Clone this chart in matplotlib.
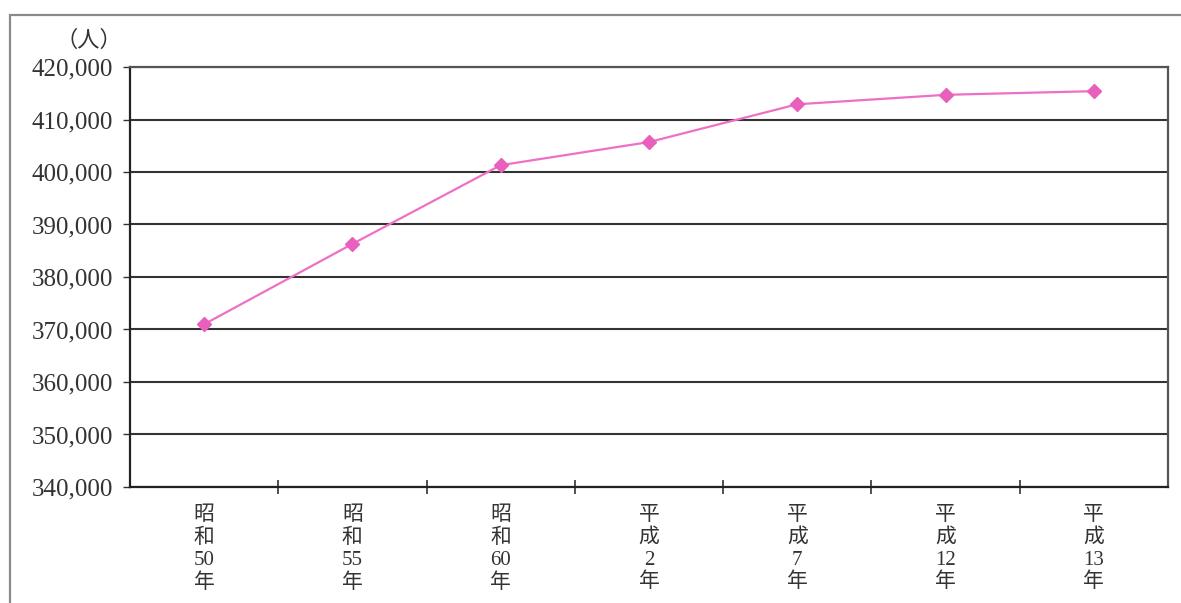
import matplotlib
matplotlib.use("Agg")
import matplotlib.pyplot as plt
from matplotlib.patches import Rectangle
from matplotlib.ticker import FuncFormatter

# Population (persons) by survey year
years = ["昭\n和\n50\n年", "昭\n和\n55\n年", "昭\n和\n60\n年", "平\n成\n2\n年",
         "平\n成\n7\n年", "平\n成\n12\n年", "平\n成\n13\n年"]
population = [371000, 386300, 401300, 405700, 412900, 414700, 415400]
y_ticks = list(range(340000, 420001, 10000))

W, H = 1181, 603
fig = plt.figure(figsize=(W / 100, H / 100), dpi=100)
fig.patch.set_facecolor("white")

# outer frame around the chart
fig.patches.append(Rectangle((10 / W, -0.05), 1.1, 1 - 15 / H + 0.05,
                             transform=fig.transFigure, fill=False,
                             edgecolor="#8a8a8a", linewidth=1.6))

left, right, top, bottom = 130 / W, 1168 / W, 1 - 67 / H, 1 - 487 / H
ax = fig.add_axes([left, bottom, right - left, top - bottom])

x = list(range(len(population)))
ax.plot(x, population, color="#ee70c6", linewidth=1.6, marker="D",
        markersize=7, markerfacecolor="#e860bc", markeredgecolor="#e860bc", zorder=3)

ax.set_xlim(-0.5, len(population) - 0.5)
ax.set_ylim(y_ticks[0], y_ticks[-1])
ax.set_yticks(y_ticks)
ax.yaxis.set_major_formatter(FuncFormatter(lambda v, p: f"{int(v):,}"))
ax.grid(axis="y", color="#333333", linewidth=1.5)
ax.set_axisbelow(True)

serif = ["Liberation Serif", "Noto Sans CJK JP"]
for lbl in ax.get_yticklabels():
    lbl.set_fontfamily(serif)
    lbl.set_fontsize(18)
    lbl.set_color("#333333")
ax.tick_params(axis="y", direction="out", length=5, width=1, color="#333333", pad=7)

# category labels in the middle, tick marks on the boundaries
ax.set_xticks(x)
ax.set_xticklabels(years, fontfamily=serif, fontsize=15, color="#333333",
                   linespacing=1.22, va="top")
ax.tick_params(axis="x", which="major", length=0, pad=14)
ax.set_xticks([i + 0.5 for i in x[:-1]], minor=True)
ax.tick_params(axis="x", which="minor", direction="inout", length=10, width=1.2,
               color="#333333")

for side in ["left", "bottom"]:
    ax.spines[side].set_color("#222222")
    ax.spines[side].set_linewidth(1.6)
for side in ["right", "top"]:
    ax.spines[side].set_color("#555555")
    ax.spines[side].set_linewidth(1.6)

fig.text(122 / W, 1 - 40 / H, "（人）", ha="right", va="center",
         fontsize=16, color="#333333", fontfamily=["Noto Sans CJK JP"])

fig.savefig("out.png", dpi=100, facecolor="white")
